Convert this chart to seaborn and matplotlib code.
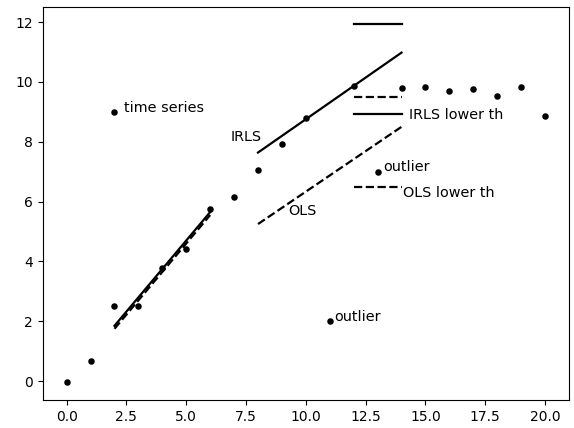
import matplotlib
matplotlib.use("Agg")
import matplotlib.pyplot as plt
import seaborn as sns
import pandas as pd

# data points
x_pts = list(range(21))
y_pts = [-0.03, 0.67, 2.52, 2.52, 3.79, 4.41, 5.75, 6.17, 7.06, 7.92, 8.78,
         2.0, 9.87, 7.0, 9.81, 9.84, 9.71, 9.76, 9.52, 9.82, 8.85]
legend_pt_x = [2]
legend_pt_y = [9.0]

# fitted segments
irls1_x = [2, 6]
irls1_y = [1.85, 5.65]
ols1_x = [2, 6]
ols1_y = [1.75, 5.55]
irls2_x = [8, 14]
irls2_y = [7.64, 10.98]
ols2_x = [8, 14]
ols2_y = [5.25, 8.5]

# threshold segments
th_x = [12, 14]
irls_upper = 11.93
ols_upper = 9.48
irls_lower = 8.92
ols_lower = 6.5

fig = plt.figure(figsize=(5.74, 4.28), dpi=100)
ax = fig.add_axes([0.0744, 0.0654, 0.9169, 0.9194])

pts = pd.DataFrame({"x": x_pts + legend_pt_x, "y": y_pts + legend_pt_y})
sns.scatterplot(data=pts, x="x", y="y", color="black", s=22, linewidth=0, ax=ax, zorder=3)

def seg(xs, ys, ls):
    sns.lineplot(x=xs, y=ys, color="black", linewidth=1.6, linestyle=ls, ax=ax,
                 sort=False, estimator=None)

seg(irls1_x, irls1_y, "-")
seg(ols1_x, ols1_y, "--")
seg(irls2_x, irls2_y, "-")
seg(ols2_x, ols2_y, "--")
seg(th_x, [irls_upper] * 2, "-")
seg(th_x, [ols_upper] * 2, "--")
seg(th_x, [irls_lower] * 2, "-")
seg(th_x, [ols_lower] * 2, "--")

fs = 10.4
ax.text(2.40, 9.14, "time series", fontsize=fs, va="center")
ax.text(6.85, 8.16, "IRLS", fontsize=fs, va="center")
ax.text(9.26, 5.69, "OLS", fontsize=fs, va="center")
ax.text(13.22, 7.16, "outlier", fontsize=fs, va="center")
ax.text(11.2, 2.14, "outlier", fontsize=fs, va="center")
ax.text(14.33, 8.9, "IRLS lower th", fontsize=fs, va="center")
ax.text(14.05, 6.29, "OLS lower th", fontsize=fs, va="center")

ax.set_xlim(-1, 21)
ax.set_ylim(-0.63, 12.52)
ax.set_xticks([0, 2.5, 5, 7.5, 10, 12.5, 15, 17.5, 20])
ax.set_xticklabels(["0.0", "2.5", "5.0", "7.5", "10.0", "12.5", "15.0", "17.5", "20.0"])
ax.set_yticks([0, 2, 4, 6, 8, 10, 12])
ax.set_xlabel("")
ax.set_ylabel("")
ax.tick_params(labelsize=10)

fig.savefig("out.png", dpi=100)
